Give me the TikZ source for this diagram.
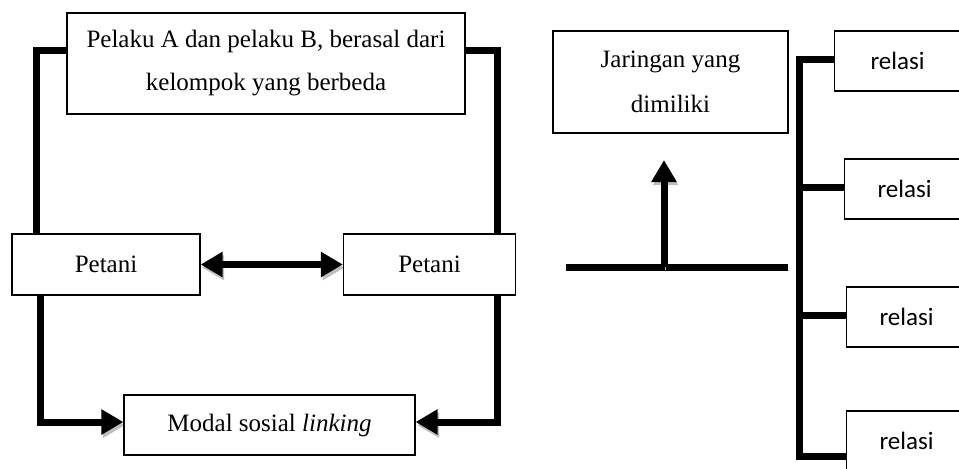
\documentclass[tikz,border=0pt]{standalone}
\usepackage{fontspec}
\setmainfont{Liberation Serif}
\newfontfamily\relfont{Carlito}
\usetikzlibrary{arrows.meta}
\pgfdeclarelayer{bg}
\pgfsetlayers{bg,main}
\tikzset{
    box/.style={rectangle, draw, line width=0.6pt, fill=white, inner sep=0mm, align=center,
        font=\fontsize{12.5}{21.5}\selectfont},
    relbox/.style={box, anchor=west, minimum width=75pt, minimum height=30pt, font=\relfont\fontsize{12.5}{15}\selectfont},
    link/.style={line width=3.5pt, preaction={draw=gray!50, transform canvas={shift={(0.8pt,-1.6pt)}}}},
    tip/.style={-{Triangle[length=11pt,width=12pt]}},
    twotip/.style={{Triangle[length=11pt,width=12pt]}-{Triangle[length=11pt,width=12pt]}}
}

\begin{document}
\begin{tikzpicture}[x=0.5pt, y=-0.5pt]
        \useasboundingbox (0,0) rectangle (959,468);
        \clip (0,0) rectangle (959,468);
        \node (pelaku) [box, minimum width=199pt, minimum height=50.5pt] at (266,63.5) {Pelaku A dan pelaku B, berasal dari\\kelompok yang berbeda};
        \node (petL) [box, minimum width=94pt, minimum height=30.5pt] at (106,264.5) {Petani};
        \node (petR) [box, minimum width=86pt, minimum height=30.5pt] at (429.5,264.5) {Petani};
        \node (modal) [box, minimum width=145.5pt, minimum height=30pt] at (269.5,425) {Modal sosial \textit{linking}};
        \node (jar) [box, minimum width=117.5pt, minimum height=51pt, font=\fontsize{12.5}{22.5}\selectfont] at (670.5,82) {Jaringan yang\\dimiliki};
        \node (rel1) [relbox] at (834,61) {\hspace*{-12pt}relasi};
        \node (rel2) [relbox] at (844,189) {\hspace*{-15pt}relasi};
        \node (rel3) [relbox] at (846,317) {\hspace*{-15pt}relasi};
        \node (rel4) [relbox] at (846,441) {\hspace*{-15pt}relasi};
        \coordinate (tl) at (36,50);
        \coordinate (tr) at (497,50);
        \coordinate (bl) at (40,422);
        \coordinate (br) at (497,422);
        \coordinate (h1) at (566,267);
        \coordinate (h2) at (788,267);
        \coordinate (hm) at (664,267);
        \coordinate (up) at (664,160);
        \coordinate (v1) at (799,59);
        \coordinate (v4) at (799,456);
        \begin{pgfonlayer}{bg}
                \draw [link] (petL.north -| tl) -- (tl) -- (pelaku.west |- tl);
                \draw [link] (pelaku.east |- tr) -- (tr) -- (petR.north -| tr);
                \draw [link, tip] (petL.south -| bl) -- (bl) -- (modal.west |- bl);
                \draw [link, tip] (petR.south -| br) -- (br) -- (modal.east |- br);
                \draw [link, twotip] (petL.east) -- (petR.west);
                \draw [link] (h1) -- (h2);
                \draw [link, tip] (hm) -- (up);
                \draw [link] (rel1.west |- v1) -- (v1) -- (v4) -- (rel4.west |- v4);
                \draw [link] (rel2.west |- 0,187) -- (v1 |- 0,187);
                \draw [link] (rel3.west |- 0,315) -- (v1 |- 0,315);
        \end{pgfonlayer}
\end{tikzpicture}
\end{document}
